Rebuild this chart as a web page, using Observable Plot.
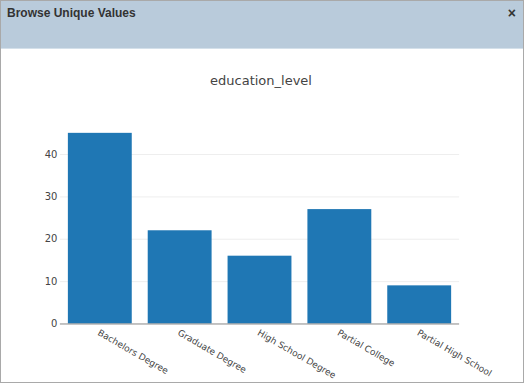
<!DOCTYPE html>
<html><head><meta charset="utf-8">
<script src="https://cdn.jsdelivr.net/npm/d3@7"></script>
<script src="https://cdn.jsdelivr.net/npm/@observablehq/plot@0.6"></script>
<style>
html,body{margin:0;padding:0;background:#fff;}
#dlg{position:relative;width:522px;height:381px;border:1px solid #a9a9a9;overflow:hidden;background:#fff;}
#hdr{position:absolute;left:0;top:0;width:522px;height:47px;background:#b9cbdb;border-bottom:1px solid #d4e0ea;}
#hdr .t{position:absolute;left:6px;top:5px;font:bold 12px "Liberation Sans",Arial,sans-serif;color:#333;}
#hdr .x{position:absolute;right:7px;top:4px;font:bold 14px "Liberation Sans",Arial,sans-serif;color:#333;}
#ttl{position:absolute;left:0;top:72px;width:520px;text-align:center;font:13px "DejaVu Sans",sans-serif;color:#444;}
#chart{position:absolute;left:-1px;top:48px;}
</style></head>
<body>
<div id="dlg">
  <div id="hdr"><span class="t">Browse Unique Values</span><span class="x">×</span></div>
  <div id="ttl">education_level</div>
  <div id="chart"></div>
</div>
<script>
const categories = ["Bachelors Degree","Graduate Degree","High School Degree","Partial College","Partial High School"];
const counts = [45, 22, 16, 27, 9];
const yTicks = [0, 10, 20, 30, 40];

const data = categories.map((c, i) => ({category: c, count: counts[i]}));

const chart = Plot.plot({
  width: 524,
  height: 335,
  marginLeft: 60,
  marginRight: 64,
  marginTop: 84,
  marginBottom: 60,
  style: {fontFamily: "DejaVu Sans, sans-serif", fontSize: "10px", color: "#444", background: "transparent"},
  x: {domain: categories, paddingInner: 0.2, paddingOuter: 0.1, axis: null},
  y: {domain: [0, 45], axis: null},
  marks: [
    Plot.ruleY(yTicks.filter(d => d > 0), {stroke: "#eeeeee", strokeWidth: 1}),
    Plot.barY(data, {x: "category", y: "count", fill: "#1f77b4"}),
    Plot.ruleY([0], {stroke: "#888", strokeWidth: 1}),
    Plot.text(yTicks, {y: d => d, frameAnchor: "left", dx: -3, textAnchor: "end", text: d => String(d), fill: "#444", fontSize: 10}),
    Plot.text(categories, {x: d => d, frameAnchor: "bottom", dy: 5, dx: 0, rotate: 30, textAnchor: "start", lineAnchor: "top", text: d => d, fill: "#444", fontSize: 9})
  ]
});
document.getElementById("chart").appendChild(chart);
</script>
</body></html>
